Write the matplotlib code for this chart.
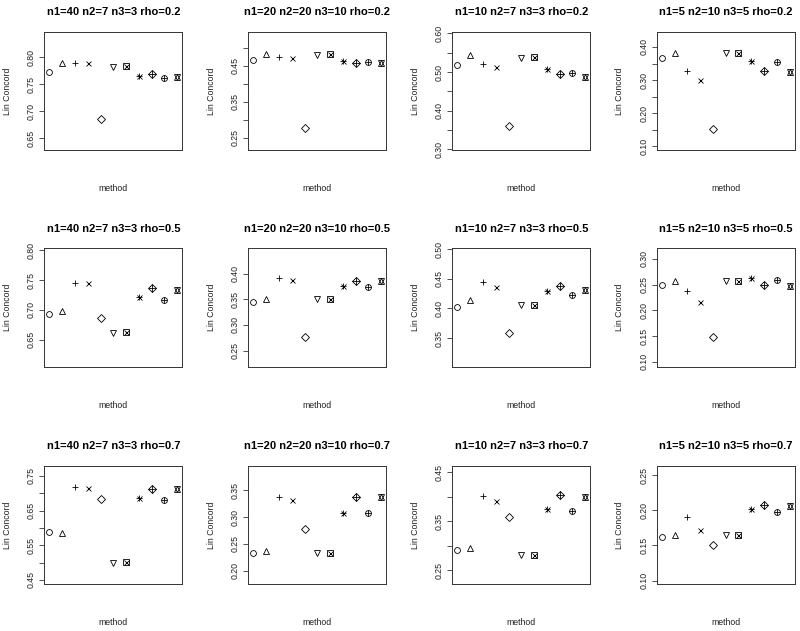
import numpy as np
import matplotlib
matplotlib.use("Agg")
import matplotlib.pyplot as plt

plt.rcParams['font.family'] = ['Liberation Sans', 'DejaVu Sans']

configs = ["n1=40 n2=7 n3=3", "n1=20 n2=20 n3=10", "n1=10 n2=7 n3=3", "n1=5 n2=10 n3=5"]
rhos = ["0.2", "0.5", "0.7"]
methods = list(range(1, 12))

# Lin concordance per method (11 methods), one list per configuration
rho02 = [
    [0.772, 0.789, 0.789, 0.789, 0.686, 0.782, 0.783, 0.766, 0.768, 0.761, 0.764],
    [0.466, 0.481, 0.474, 0.472, 0.278, 0.480, 0.482, 0.464, 0.458, 0.461, 0.457],
    [0.517, 0.543, 0.522, 0.514, 0.359, 0.537, 0.538, 0.507, 0.496, 0.498, 0.488],
    [0.368, 0.383, 0.327, 0.300, 0.151, 0.382, 0.382, 0.358, 0.326, 0.354, 0.323],
]
rho05 = [
    [0.694, 0.699, 0.746, 0.746, 0.686, 0.662, 0.663, 0.722, 0.736, 0.717, 0.733],
    [0.345, 0.351, 0.391, 0.387, 0.277, 0.350, 0.351, 0.376, 0.386, 0.375, 0.385],
    [0.403, 0.414, 0.444, 0.436, 0.359, 0.406, 0.406, 0.430, 0.437, 0.423, 0.431],
    [0.249, 0.257, 0.237, 0.217, 0.149, 0.257, 0.257, 0.262, 0.249, 0.259, 0.247],
]
rho07 = [
    [0.589, 0.585, 0.717, 0.716, 0.684, 0.500, 0.502, 0.685, 0.713, 0.681, 0.711],
    [0.234, 0.236, 0.338, 0.333, 0.277, 0.233, 0.233, 0.308, 0.338, 0.308, 0.337],
    [0.291, 0.296, 0.401, 0.391, 0.359, 0.281, 0.282, 0.374, 0.404, 0.370, 0.400],
    [0.162, 0.165, 0.190, 0.172, 0.151, 0.165, 0.165, 0.201, 0.207, 0.198, 0.206],
]
panels = [rho02, rho05, rho07]

# R-like pch 1..11 built from matplotlib markers
pch = {
    1: [('o', 4.2)],
    2: [('^', 4.6)],
    3: [('+', 5.0)],
    4: [('x', 3.6)],
    5: [('D', 4.2)],
    6: [('v', 4.6)],
    7: [('s', 4.0), ('x', 3.6)],
    8: [('+', 5.0), ('x', 3.6)],
    9: [('D', 4.2), ('+', 5.6)],
    10: [('o', 4.2), ('+', 4.2)],
    11: [('^', 4.6), ('v', 4.6)],
}

W, H = 800, 631
fig = plt.figure(figsize=(W / 100, H / 100), dpi=100)

lefts = [44.3, 248.3, 452.3, 656.7]
tops = [31.7, 248.3, 465.7]
bw, bh = 138.0, 118.5

for r, rho in enumerate(rhos):
    for c, cfg in enumerate(configs):
        vals = panels[r][c]
        ax = fig.add_axes([lefts[c] / W, 1 - (tops[r] + bh) / H, bw / W, bh / H])
        for m, v in zip(methods, vals):
            for mk, ms in pch[m]:
                ax.plot([m], [v], linestyle='none', marker=mk, ms=ms,
                        mfc='none', mec='black', mew=0.6, color='black')
        lo, hi = min(vals) - 0.05, max(vals) + 0.05
        ext = (hi - lo) * 0.04
        ax.set_ylim(lo - ext, hi + ext)
        ax.set_xlim(1 - 0.4, 11 + 0.4)
        ax.set_xticks([])
        step = 0.05
        ticks = np.arange(np.ceil((lo - ext) / step - 1e-9) * step, hi + ext + 1e-9, step)
        ticks = [t for t in ticks if lo - ext - 1e-9 <= t <= hi + ext + 1e-9]
        spacing_px = step / (hi - lo + 2 * ext) * bh
        every = 1 if spacing_px > 25.0 else 2
        labels = [f"{t:.2f}" if i % every == 0 else "" for i, t in enumerate(ticks)]
        ax.set_yticks(ticks)
        ax.set_yticklabels(labels, rotation=90, va='center', fontsize=6.3, color='#222222')
        ax.tick_params(axis='y', length=3.6, width=0.6, pad=2.5, color='#333333')
        for s in ax.spines.values():
            s.set_linewidth(0.7)
            s.set_color('#333333')
        ax.text(0.5, 1 + 16.7 / bh, f"{cfg} rho={rho}", transform=ax.transAxes,
                ha='center', va='baseline', fontsize=8, fontweight='bold')
        ax.text(0.5, -41.0 / bh, "method", transform=ax.transAxes,
                ha='center', va='baseline', fontsize=6.3, color='#222222')
        ax.text(-37.0 / bw, 0.5, "Lin Concord", transform=ax.transAxes,
                ha='center', va='center', rotation=90, fontsize=6.3, color='#222222')

fig.savefig("out.png", dpi=100)
